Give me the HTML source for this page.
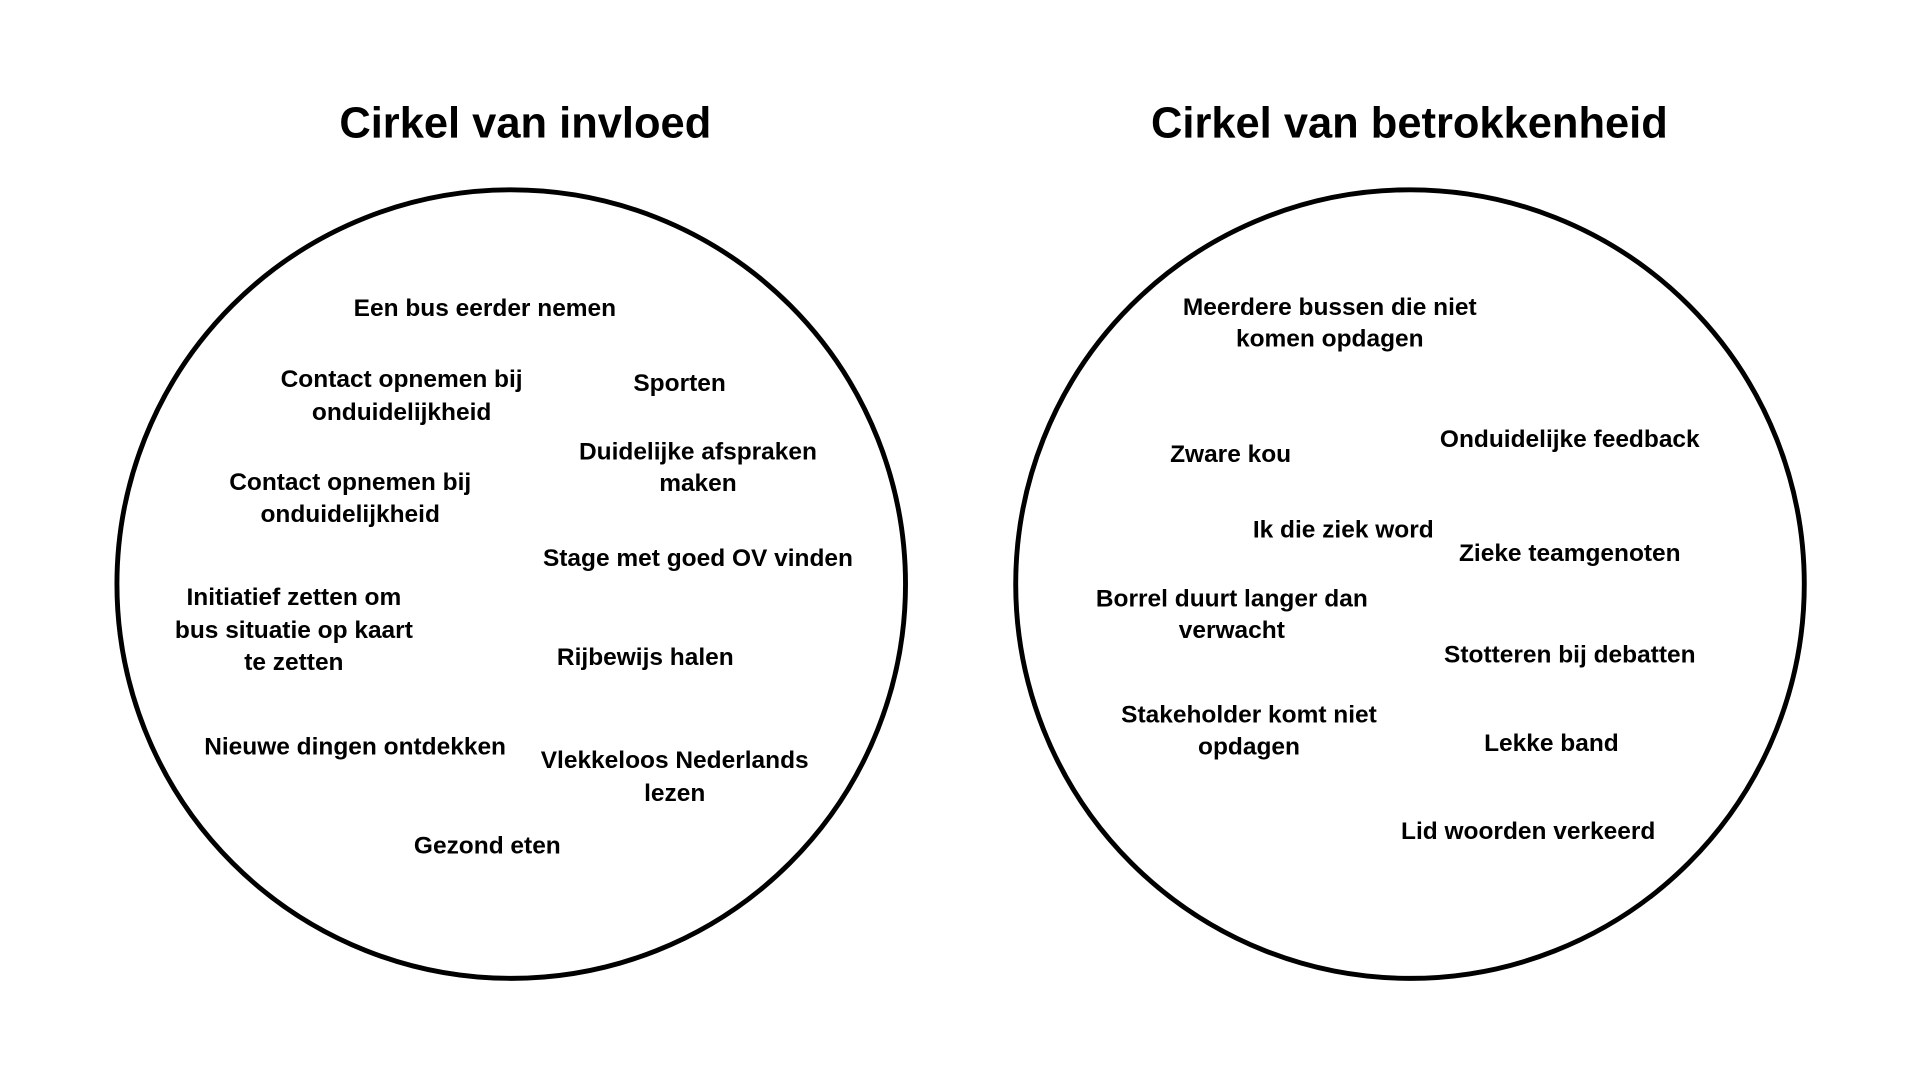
<!DOCTYPE html>
<html><head><meta charset="utf-8"><style>
html,body{margin:0;padding:0;background:#fff;width:1920px;height:1080px;overflow:hidden}
svg{display:block}
text{font-family:"Liberation Sans",sans-serif;font-weight:bold;fill:#000;text-anchor:middle;dominant-baseline:central}
.t{font-size:35.5px}
.l{font-size:20px}
</style></head><body>
<svg width="1920" height="1080" viewBox="0 0 1568 882" xmlns="http://www.w3.org/2000/svg">
<rect width="1568" height="882" fill="#fff"/>
<text class="t" x="429" y="101">Cirkel van invloed</text>
<text class="t" x="1151" y="101">Cirkel van betrokkenheid</text>
<circle cx="417.5" cy="477" r="322" fill="none" stroke="#000" stroke-width="4"/>
<circle cx="1151.5" cy="477" r="322" fill="none" stroke="#000" stroke-width="4"/>
<g class="l">
<text class="l" x="396" y="252">Een bus eerder nemen</text>
<text class="l" x="328" y="310">Contact opnemen bij</text>
<text class="l" x="328" y="337">onduidelijkheid</text>
<text class="l" x="555" y="313">Sporten</text>
<text class="l" x="570" y="369">Duidelijke afspraken</text>
<text class="l" x="570" y="395">maken</text>
<text class="l" x="286" y="394">Contact opnemen bij</text>
<text class="l" x="286" y="420">onduidelijkheid</text>
<text class="l" x="570" y="456">Stage met goed OV vinden</text>
<text class="l" x="240" y="488">Initiatief zetten om</text>
<text class="l" x="240" y="515">bus situatie op kaart</text>
<text class="l" x="240" y="541">te zetten</text>
<text class="l" x="527" y="537">Rijbewijs halen</text>
<text class="l" x="290" y="610">Nieuwe dingen ontdekken</text>
<text class="l" x="551" y="621">Vlekkeloos Nederlands</text>
<text class="l" x="551" y="648">lezen</text>
<text class="l" x="398" y="691">Gezond eten</text>
<text class="l" x="1086" y="251">Meerdere bussen die niet</text>
<text class="l" x="1086" y="277">komen opdagen</text>
<text class="l" x="1005" y="371">Zware kou</text>
<text class="l" x="1282" y="359">Onduidelijke feedback</text>
<text class="l" x="1097" y="433">Ik die ziek word</text>
<text class="l" x="1282" y="452">Zieke teamgenoten</text>
<text class="l" x="1006" y="489">Borrel duurt langer dan</text>
<text class="l" x="1006" y="515">verwacht</text>
<text class="l" x="1282" y="535">Stotteren bij debatten</text>
<text class="l" x="1020" y="584">Stakeholder komt niet</text>
<text class="l" x="1020" y="610">opdagen</text>
<text class="l" x="1267" y="607">Lekke band</text>
<text class="l" x="1248" y="679">Lid woorden verkeerd</text>
</g>
</svg>
</body></html>
